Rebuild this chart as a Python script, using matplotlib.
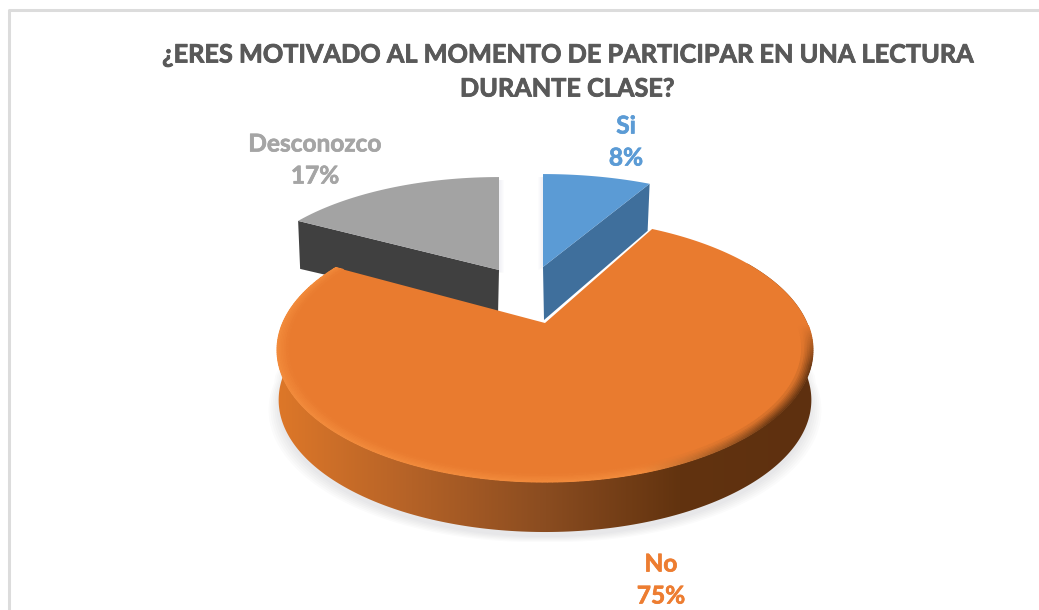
import matplotlib

matplotlib.use("Agg")
import matplotlib.patheffects as pe
import matplotlib.pyplot as plt
import numpy as np
from matplotlib.colors import LinearSegmentedColormap, to_rgb
from matplotlib.patches import Polygon

categories = ["Si", "No", "Desconozco"]
values = [8, 75, 17]
title_lines = [
    "¿ERES MOTIVADO AL MOMENTO DE PARTICIPAR EN UNA LECTURA",
    "DURANTE CLASE?",
]

FACE = ["#5b9bd5", "#e97b2f", "#a3a3a3"]
CUT = ["#3f6f9c", "#8a4c20", "#404040"]
LABEL = ["#5b9bd5", "#ed7d31", "#a5a5a5"]
TEXT_GREY = "#595959"
LABEL_POS = [(626, 142), (661, 580), (315, 160)]

# perspective of the pie, all in pixels
CX, CY = 545.0, 323.0
K = 0.2045
A, B = 262.3, 126.5
# exploded slices: screen offset of the tip, shrink, wall height
EXPLODE = {0: (-2, -56, 0.995, 0.885, 50), 2: (-46, -53, 0.96, 0.885, 45)}
WALL = 50
WALL_SHRINK = 0.994

wall_cmap = LinearSegmentedColormap.from_list(
    "wall",
    [
        (0.0, "#dd7729"),
        (0.25, "#b46227"),
        (0.5, "#8a4c20"),
        (0.75, "#62330f"),
        (1.0, "#5e3010"),
    ],
)


def project(theta, r=1.0):
    # theta is clockwise from the top of the pie, degrees
    th = np.radians(theta)
    u, v = r * np.sin(th), r * np.cos(th)
    w = 1 + K * v
    return A * u / w, B * v / w


def mix(c1, c2, f):
    c1, c2 = np.array(to_rgb(c1)), np.array(to_rgb(c2))
    return tuple(c1 + (c2 - c1) * f)


def rim_colour(theta):
    th = np.radians(theta)
    u, v = np.sin(th), np.cos(th)
    if u > 0.3:
        colour = mix("#f28b3c", "#6e3a14", min((u - 0.3) / 0.45, 1))
        return colour, np.clip((-0.02 - v) / 0.3, 0, 1)
    return mix("#f28b3c", "#f28b3c", 0), 1.0


fig = plt.figure(figsize=(10.39, 6.10), dpi=100)
ax = fig.add_axes([0, 0, 1, 1])
ax.axis("off")

# frame of the pasted chart
ax.plot([8.5, 8.5, 1039], [610, 9.5, 9.5], color="#dcdcdc", lw=2.2)

# cumulative angles from the values
edges = np.cumsum([0] + values) * 3.6

# soft shadow under the big slice, front half only
for i in range(0, 12, 2):
    tt = np.linspace(80, 280, 200)
    sx, sy = project(tt)
    ax.fill(
        CX + sx * WALL_SHRINK + np.sign(sx) * i,
        CY - sy + WALL + 5 + np.where(sy < 0, i * 0.5, 0),
        color="#8f8f9c",
        alpha=0.035,
        lw=0,
        zorder=1,
    )

# exploded slices
for idx in EXPLODE:
    dx, dy, fx, fy, depth = EXPLODE[idx]
    tt = np.linspace(edges[idx], edges[idx + 1], 60)
    sx, sy = project(tt)
    arc_x = CX + dx + sx * fx
    arc_y = CY + dy - sy * fy
    tip_x, tip_y = CX + dx, CY + dy
    top_x = np.r_[tip_x, arc_x]
    top_y = np.r_[tip_y, arc_y]
    # faint shadow beside the slice
    for i in range(1, 6):
        off = i if idx == 0 else -i
        ax.fill(
            top_x - off,
            top_y + 3,
            color="#8f8f9c",
            alpha=0.02,
            lw=0,
            zorder=2,
        )
    # the cut wall facing the viewer
    if idx == 0:
        cx_, cy_ = arc_x[-1], arc_y[-1]
        side = [tip_x, cx_, cx_ - 2, tip_x + 1], [tip_y, cy_, cy_ + depth - 3, tip_y + depth + 3]
    else:
        cx_, cy_ = arc_x[0], arc_y[0]
        side = [tip_x, cx_, cx_ + 2, tip_x - 1], [tip_y, cy_, cy_ + depth + 3, tip_y + depth]
    ax.fill(side[0], side[1], color=CUT[idx], lw=0, zorder=3)
    ax.fill(top_x, top_y, color=FACE[idx], lw=0, zorder=4)

# wall of the big slice, a gradient clipped to its outline
idx = 1
tt = np.linspace(edges[idx], edges[idx + 1], 300)
sx, sy = project(tt)
front = sy < 60
wall_x = np.r_[CX + sx[front], (CX + sx[front] * WALL_SHRINK)[::-1]]
wall_y = np.r_[CY - sy[front], (CY - sy[front] + WALL)[::-1]]
wall_outline = Polygon(np.c_[wall_x, wall_y], closed=True, transform=ax.transData, fc="none", ec="none")
ax.add_patch(wall_outline)
grad = ax.imshow(
    np.linspace(0, 1, 256).reshape(1, -1),
    cmap=wall_cmap,
    extent=(278, 814, 600, 200),
    aspect="auto",
    zorder=5,
)
grad.set_clip_path(wall_outline)

# top face
px = np.r_[CX, CX + sx]
py = np.r_[CY, CY - sy]
ax.fill(px, py, color=FACE[idx], lw=0, zorder=6)

# bevel along the outer edge of the face
levels = np.linspace(1.0, 0.96, 8)
for j in range(len(levels) - 1):
    strength = 1 - j / (len(levels) - 1)
    for i in range(0, len(tt) - 1):
        mid = 0.5 * (tt[i] + tt[i + 1])
        colour, amount = rim_colour(mid)
        if amount <= 0:
            continue
        col = mix(FACE[idx], colour, strength * amount)
        ox, oy = project(tt[[i, i + 1]], levels[j])
        ix, iy = project(tt[[i + 1, i]], levels[j + 1])
        ax.fill(
            CX + np.r_[ox, ix],
            CY - np.r_[oy, iy],
            color=col,
            ec=col,
            lw=0.8,
            zorder=7,
        )

# texts, with a thin stroke because the source font is heavier
ax.text(567, 55, title_lines[0], ha="center", va="center", fontsize=18.2,
        fontfamily="Lato", fontweight="bold", color=TEXT_GREY, zorder=10,
        path_effects=[pe.withStroke(linewidth=0.6, foreground=TEXT_GREY)])
ax.text(567, 89, title_lines[1], ha="center", va="center", fontsize=18.2,
        fontfamily="Lato", fontweight="bold", color=TEXT_GREY, zorder=10,
        path_effects=[pe.withStroke(linewidth=0.6, foreground=TEXT_GREY)])

for name, val, pos, col in zip(categories, values, LABEL_POS, LABEL):
    ax.text(pos[0], pos[1] - 16, name, ha="center", va="center", fontsize=17.6,
            fontfamily="Lato", fontweight="bold", color=col, zorder=10,
            path_effects=[pe.withStroke(linewidth=0.5, foreground=col)])
    ax.text(pos[0], pos[1] + 16, f"{val}%", ha="center", va="center", fontsize=17.6,
            fontfamily="Lato", fontweight="bold", color=col, zorder=10,
            path_effects=[pe.withStroke(linewidth=0.5, foreground=col)])

ax.set_xlim(0, 1039)
ax.set_ylim(610, 0)
fig.savefig("out.png", dpi=100)
